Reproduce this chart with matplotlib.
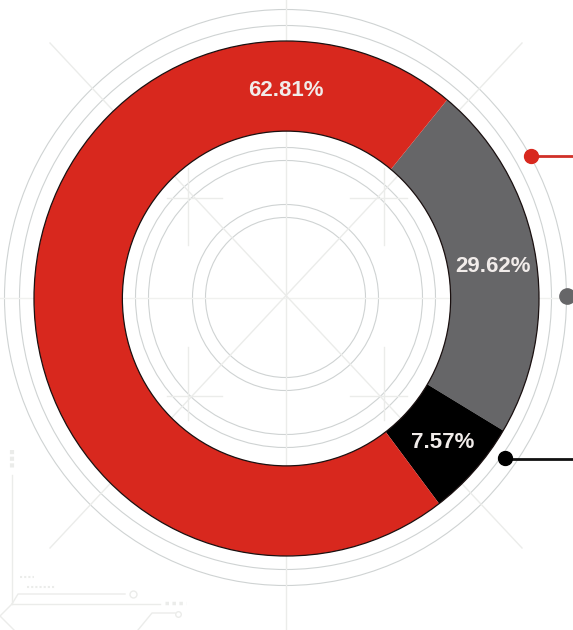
import matplotlib
matplotlib.use("Agg")
import matplotlib.pyplot as plt
from matplotlib.patches import Circle, Ellipse

# slices as they are drawn in the picture (printed labels do not match the arc lengths)
drawn_shares = [22.6, 6.1, 71.3]
slice_colors = ["#666668", "#000000", "#d8281e"]
slice_labels = ["29.62%", "7.57%", "62.81%"]

W, H = 573, 630
LINE = "#ebecea"
RING = "#cfd3d3"

fig = plt.figure(figsize=(W / 100, H / 100), dpi=100, facecolor="white")

# background drawing, in image pixels
bg = fig.add_axes([0, 0, 1, 1])
bg.set_xlim(0, W)
bg.set_ylim(H, 0)
bg.axis("off")

cx, cy = 285.5, 297.5
for rx, ry in [(80, 80), (93, 93), (137, 137), (150, 150), (266, 272), (281, 288)]:
    bg.add_patch(Ellipse((cx, cy), 2 * rx, 2 * ry, fill=False, ec=RING, lw=0.8))

bg.plot([cx, cx], [0, H], color=LINE, lw=1)
bg.plot([0, W], [cy, cy], color="#f0f1ef", lw=1)
bg.plot([50, 522], [43, 548], color=LINE, lw=1)
bg.plot([522, 50], [43, 548], color=LINE, lw=1)

# little crosses in the hole
for x, y, y0, y1 in [(188, 198, 168, 245), (384, 198, 168, 245),
                     (188, 396, 347, 420), (384, 396, 347, 420)]:
    bg.plot([x - 21, x + 34] if x < cx else [x - 34, x + 23], [y, y], color=LINE, lw=1)
    bg.plot([x, x], [y0, y1], color=LINE, lw=1)

# faint schematic, bottom left corner
bg.plot([12, 12], [475, 604], color=LINE, lw=1)
bg.plot([12, 12], [450, 470], color=LINE, lw=3, ls=(0, (1, 0.6)))
bg.plot([12, 18, 125], [604, 594, 594], color=LINE, lw=1)
bg.plot([12, 160], [604, 604], color=LINE, lw=1)
bg.plot([165, 186], [603, 603], color=LINE, lw=2.5, ls=(0, (1, 1)))
bg.plot([12, 0], [604, 616], color=LINE, lw=1)
bg.plot([0, 14], [616, 630], color=LINE, lw=1)
bg.plot([138, 152, 175], [630, 613, 613], color=LINE, lw=1)
bg.plot([20, 34], [577, 577], color=LINE, lw=1.5, ls=(0, (1, 1)))
bg.plot([27, 56], [587, 587], color=LINE, lw=1.5, ls=(0, (1, 1)))
bg.plot([133], [594], "o", ms=5, mfc="white", mec=LINE, mew=1)
bg.plot([178], [614], "o", ms=4, mfc="white", mec=LINE, mew=1)

# leader dots on the right
bg.plot([531, W], [156, 156], color="#d03028", lw=2, solid_capstyle="butt")
bg.plot([531], [156], "o", ms=10, color="#d8281e")
bg.plot([567], [296], "o", ms=11, color="#666668", clip_on=False)
bg.plot([505, W], [459, 459], color="#111111", lw=2, solid_capstyle="butt")
bg.plot([505], [458], "o", ms=10, color="#000000")

# donut, slightly taller than wide as in the picture
left, right, top, bottom = 34, 539, 41, 556
ax = fig.add_axes([left / W, (H - bottom) / H, (right - left) / W, (bottom - top) / H])
ax.patch.set_alpha(0)
ax.pie(drawn_shares, colors=slice_colors, startangle=50.5, counterclock=False,
       radius=1, wedgeprops=dict(width=0.35, lw=0, clip_on=False))
ax.set_aspect("auto")
ax.set_xlim(-1, 1)
ax.set_ylim(-1, 1)
for r in (1, 0.65):
    ax.add_patch(Circle((0, 0), r, fill=False, ec="#1a1010", lw=0.9, clip_on=False))

# labels, placed in image pixels on top of the donut
fg = fig.add_axes([0, 0, 1, 1], zorder=5)
fg.set_xlim(0, W)
fg.set_ylim(H, 0)
fg.axis("off")
label_xy = [(493, 266), (443, 442), (286, 91)]
for (x, y), s in zip(label_xy, slice_labels):
    fg.text(x, y, s, color="#f1ecea", fontsize=16, fontweight="bold",
            family="Liberation Sans", ha="center", va="center")

fig.savefig("out.png", dpi=100)
